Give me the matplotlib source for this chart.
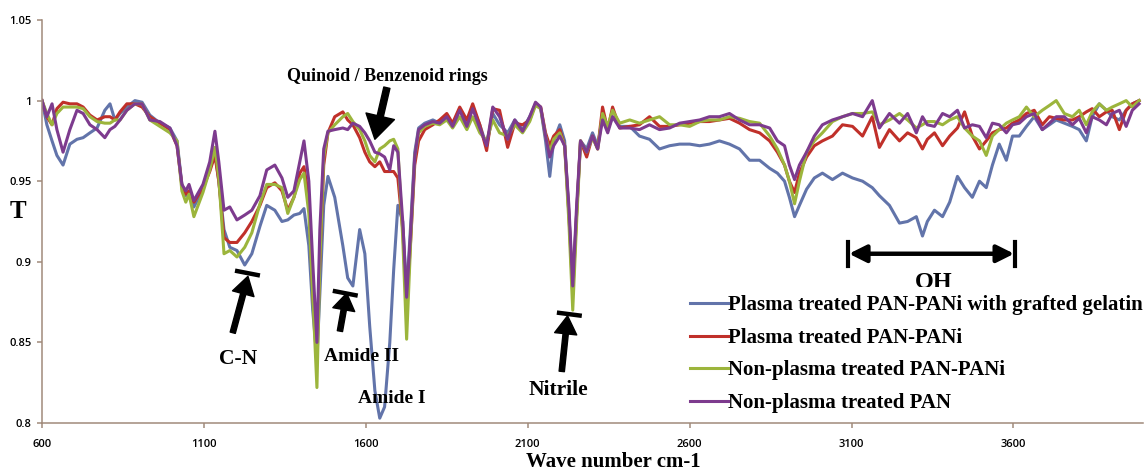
import matplotlib.pyplot as plt

# FTIR transmittance spectra
wavenumber = [600, 615, 631, 646, 665, 686, 708, 727, 748, 770,
              794, 810, 825, 841, 862, 887, 909, 933, 964, 995,
              1017, 1032, 1044, 1054, 1069, 1097, 1118, 1134, 1146, 1162,
              1180, 1202, 1226, 1248, 1273, 1294, 1319, 1341, 1359, 1378,
              1396, 1409, 1424, 1436, 1449, 1458, 1470, 1483, 1504, 1529,
              1544, 1560, 1581, 1597, 1612, 1628, 1643, 1658, 1674, 1686,
              1699, 1714, 1726, 1739, 1751, 1763, 1782, 1807, 1828, 1850,
              1868, 1890, 1912, 1930, 1952, 1973, 1992, 2013, 2038, 2060,
              2084, 2106, 2124, 2140, 2155, 2168, 2180, 2199, 2214, 2227,
              2239, 2251, 2263, 2282, 2300, 2316, 2331, 2347, 2362, 2384,
              2415, 2445, 2476, 2507, 2538, 2569, 2600, 2631, 2661, 2692,
              2723, 2754, 2785, 2816, 2847, 2871, 2893, 2908, 2924, 2939,
              2961, 2985, 3010, 3041, 3072, 3103, 3134, 3164, 3186, 3217,
              3248, 3273, 3300, 3319, 3334, 3356, 3381, 3403, 3427, 3449,
              3473, 3495, 3516, 3535, 3556, 3578, 3597, 3618, 3640, 3664,
              3689, 3711, 3732, 3757, 3782, 3803, 3825, 3843, 3865, 3887,
              3905, 3927, 3948, 3967, 3988]

gelatin = [1.000, .985, .975, .966, .960, .973, .976, .977, .980, .983,
           .994, .998, .988, .992, .996, 1.000, .999, .991, .986, .983,
           .975, .948, .941, .944, .934, .945, .958, .968, .950, .920,
           .909, .907, .898, .905, .922, .935, .932, .925, .926, .929,
           .930, .933, .910, .870, .840, .880, .935, .953, .940, .910,
           .890, .885, .920, .905, .860, .820, .803, .810, .850, .895,
           .935, .925, .880, .925, .968, .983, .986, .988, .986, .991,
           .985, .995, .985, .996, .985, .972, .992, .985, .980, .988,
           .982, .990, .998, .995, .975, .953, .975, .985, .975, .930,
           .885, .930, .975, .970, .980, .972, .990, .982, .990, .984,
           .984, .978, .976, .970, .972, .973, .973, .972, .973, .975,
           .973, .970, .963, .963, .958, .955, .950, .940, .928, .935,
           .945, .952, .955, .951, .955, .952, .950, .946, .941, .935,
           .924, .925, .928, .916, .925, .932, .928, .937, .953, .946,
           .940, .950, .946, .960, .973, .963, .978, .978, .984, .990,
           .982, .985, .988, .986, .984, .982, .975, .990, .998, .994,
           .990, .988, .994, .998, 1.000]

plasma_pani = [1.000, .990, .985, .995, .999, .998, .998, .996, .991, .988,
               .990, .990, .988, .993, .998, .998, .996, .990, .986, .982,
               .972, .947, .942, .944, .937, .946, .956, .966, .950, .915,
               .912, .912, .918, .925, .935, .946, .949, .944, .932, .940,
               .955, .959, .940, .880, .843, .900, .960, .980, .990, .993,
               .988, .985, .977, .968, .962, .959, .962, .956, .956, .956,
               .952, .920, .872, .915, .960, .975, .982, .985, .988, .992,
               .986, .996, .988, .998, .985, .969, .995, .994, .971, .986,
               .985, .988, .998, .996, .980, .972, .978, .982, .972, .930,
               .880, .930, .975, .965, .978, .970, .996, .982, .996, .983,
               .984, .985, .990, .984, .984, .985, .986, .987, .987, .988,
               .989, .986, .982, .980, .975, .968, .960, .950, .943, .955,
               .965, .972, .975, .978, .985, .984, .978, .990, .971, .982,
               .975, .980, .977, .970, .976, .980, .972, .978, .983, .993,
               .978, .970, .975, .980, .982, .983, .986, .988, .992, .994,
               .985, .990, .989, .988, .988, .990, .993, .995, .990, .993,
               .994, .982, .994, .998, 1.000]

nonplasma_pani = [1.000, .992, .985, .992, .996, .996, .996, .995, .990, .987,
                  .986, .986, .988, .988, .994, .998, .998, .988, .984, .980,
                  .975, .944, .937, .942, .928, .943, .957, .971, .952, .905,
                  .907, .903, .909, .918, .936, .948, .948, .946, .930, .940,
                  .951, .955, .930, .880, .822, .900, .965, .980, .985, .990,
                  .992, .987, .982, .975, .966, .962, .970, .972, .975, .976,
                  .970, .915, .852, .915, .965, .980, .984, .986, .985, .988,
                  .983, .990, .982, .990, .980, .975, .988, .980, .978, .985,
                  .980, .987, .997, .995, .978, .968, .976, .980, .972, .925,
                  .870, .925, .975, .968, .977, .970, .992, .984, .994, .986,
                  .988, .986, .988, .990, .985, .985, .984, .987, .988, .988,
                  .990, .989, .987, .986, .978, .970, .960, .950, .936, .950,
                  .968, .975, .980, .987, .990, .992, .992, .993, .985, .988,
                  .992, .988, .983, .985, .987, .987, .985, .988, .990, .983,
                  .978, .975, .966, .978, .982, .986, .988, .990, .996, .990,
                  .994, .997, 1.000, .992, .990, .994, .985, .993, .998, .994,
                  .996, .998, 1.000, .996, 1.000]

nonplasma_pan = [1.000, .990, .998, .982, .968, .982, .994, .992, .985, .982,
                 .977, .982, .984, .988, .994, .998, .998, .988, .987, .983,
                 .972, .948, .944, .948, .938, .948, .962, .981, .962, .932,
                 .934, .926, .929, .932, .941, .957, .960, .952, .940, .944,
                 .962, .975, .950, .900, .850, .920, .970, .981, .982, .983,
                 .982, .986, .984, .980, .975, .968, .967, .965, .957, .972,
                 .968, .925, .878, .920, .965, .982, .985, .987, .986, .990,
                 .984, .994, .984, .995, .983, .972, .996, .990, .976, .988,
                 .981, .990, .999, .996, .978, .965, .972, .978, .972, .935,
                 .885, .935, .975, .968, .978, .970, .988, .980, .990, .983,
                 .983, .982, .985, .982, .983, .986, .987, .988, .990, .990,
                 .992, .988, .985, .985, .983, .975, .972, .960, .951, .960,
                 .968, .978, .985, .988, .990, .992, .990, 1.000, .983, .992,
                 .986, .992, .980, .990, .985, .984, .992, .990, .994, .983,
                 .985, .984, .977, .986, .985, .980, .985, .986, .990, .992,
                 .982, .986, .990, .990, .985, .989, .980, .990, .988, .985,
                 .992, .994, .984, .994, .998]

series = [gelatin, plasma_pani, nonplasma_pani, nonplasma_pan]
labels = ['Plasma treated PAN-PANi with grafted gelatin',
          'Plasma treated PAN-PANi',
          'Non-plasma treated PAN-PANi',
          'Non-plasma treated PAN']
colors = ['#6274aa', '#c0302a', '#9cb53c', '#7d3b8e']

xticks = [600, 1100, 1600, 2100, 2600, 3100, 3600]
yticks = [0.8, 0.85, 0.9, 0.95, 1.0, 1.05]
ytick_labels = ['0.8', '0.85', '0.9', '0.95', '1', '1.05']

serif = 'Liberation Serif'
axis_col = '#a08a7a'

fig = plt.figure(figsize=(11.47, 4.70), dpi=100)
ax = fig.add_axes([42 / 1147, 47 / 470, 1101 / 1147, 403 / 470])

for y, c, lab in zip(series, colors, labels):
    ax.plot(wavenumber, y, color=c, lw=2.2, label=lab)

ax.set_xlim(600, 4000)
ax.set_ylim(0.8, 1.05)
ax.set_xticks(xticks)
ax.set_yticks(yticks)
ax.set_yticklabels(ytick_labels)
for s in ['top', 'right']:
    ax.spines[s].set_visible(False)
for s in ['left', 'bottom']:
    ax.spines[s].set_color(axis_col)
    ax.spines[s].set_linewidth(1.1)
ax.tick_params(direction='out', length=3.5, width=1.1, color=axis_col)
ax.tick_params(axis='x', pad=8)
ax.tick_params(axis='y', pad=4)
for lbl in ax.get_xticklabels() + ax.get_yticklabels():
    lbl.set_fontfamily('Open Sans')
    lbl.set_fontweight('semibold')
    lbl.set_fontsize(8)

fig.text(613 / 1147, 1 - 462 / 470, 'Wave number cm-1', family=serif,
         weight='bold', size=15, ha='center', va='center')
fig.text(18 / 1147, 1 - 212 / 470, 'T', family=serif, weight='bold',
         size=18, ha='center', va='center')


def arrow(tail, tip, width, hw, hl):
    ax.annotate('', xy=tip, xytext=tail,
                arrowprops=dict(facecolor='black', edgecolor='black',
                                width=width, headwidth=hw, headlength=hl,
                                shrink=0))


def bar(p1, p2):
    ax.plot([p1[0], p2[0]], [p1[1], p2[1]], color='black', lw=3.2,
            solid_capstyle='butt')


# Quinoid / Benzenoid
ax.text(1668, 1.0150, 'Quinoid / Benzenoid rings', family=serif,
        weight='bold', size=13, ha='center', va='center')
arrow((1665, 1.008), (1628, 0.976), 4.5, 21, 17)

# C-N
ax.text(1205, 0.840, 'C-N', family=serif, weight='bold', size=15.5,
        ha='center', va='center')
arrow((1189, 0.856), (1236, 0.891), 3.8, 16, 13)
bar((1196, 0.8945), (1273, 0.8915))

# Amide II
ax.text(1588, 0.841, 'Amide II', family=serif, weight='bold', size=14,
        ha='center', va='center')
arrow((1520, 0.857), (1541, 0.8805), 3.8, 16, 12)
bar((1498, 0.882), (1575, 0.879))

# Amide I
ax.text(1680, 0.815, 'Amide I', family=serif, weight='bold', size=14,
        ha='center', va='center')

# Nitrile
ax.text(2195, 0.8205, 'Nitrile', family=serif, weight='bold', size=15.5,
        ha='center', va='center')
arrow((2205, 0.832), (2223, 0.8665), 3.8, 16, 13)
bar((2190, 0.8685), (2267, 0.8665))

# OH range
ax.annotate('', xy=(3092, 0.905), xytext=(3602, 0.905),
            arrowprops=dict(arrowstyle='<|-|>', color='black', lw=3.2,
                            mutation_scale=26, shrinkA=0, shrinkB=0))
ax.plot([3088, 3088], [0.8975, 0.9125], color='black', lw=3)
ax.plot([3606, 3606], [0.8975, 0.9125], color='black', lw=3)
ax.text(3354, 0.887, 'OH', family=serif, weight='bold', size=17.5,
        ha='center', va='center')

leg = ax.legend(loc='upper left', bbox_to_anchor=(682 / 1147, 1 - 287 / 470),
                bbox_transform=fig.transFigure, frameon=True,
                facecolor='white', edgecolor='none', framealpha=1,
                fancybox=False, borderpad=0.4, borderaxespad=0,
                handlelength=1.8, handletextpad=0.0, labelspacing=0.6,
                prop={'family': serif, 'weight': 'bold', 'size': 15})
leg.set_zorder(10)

fig.savefig('out.png', dpi=100)
